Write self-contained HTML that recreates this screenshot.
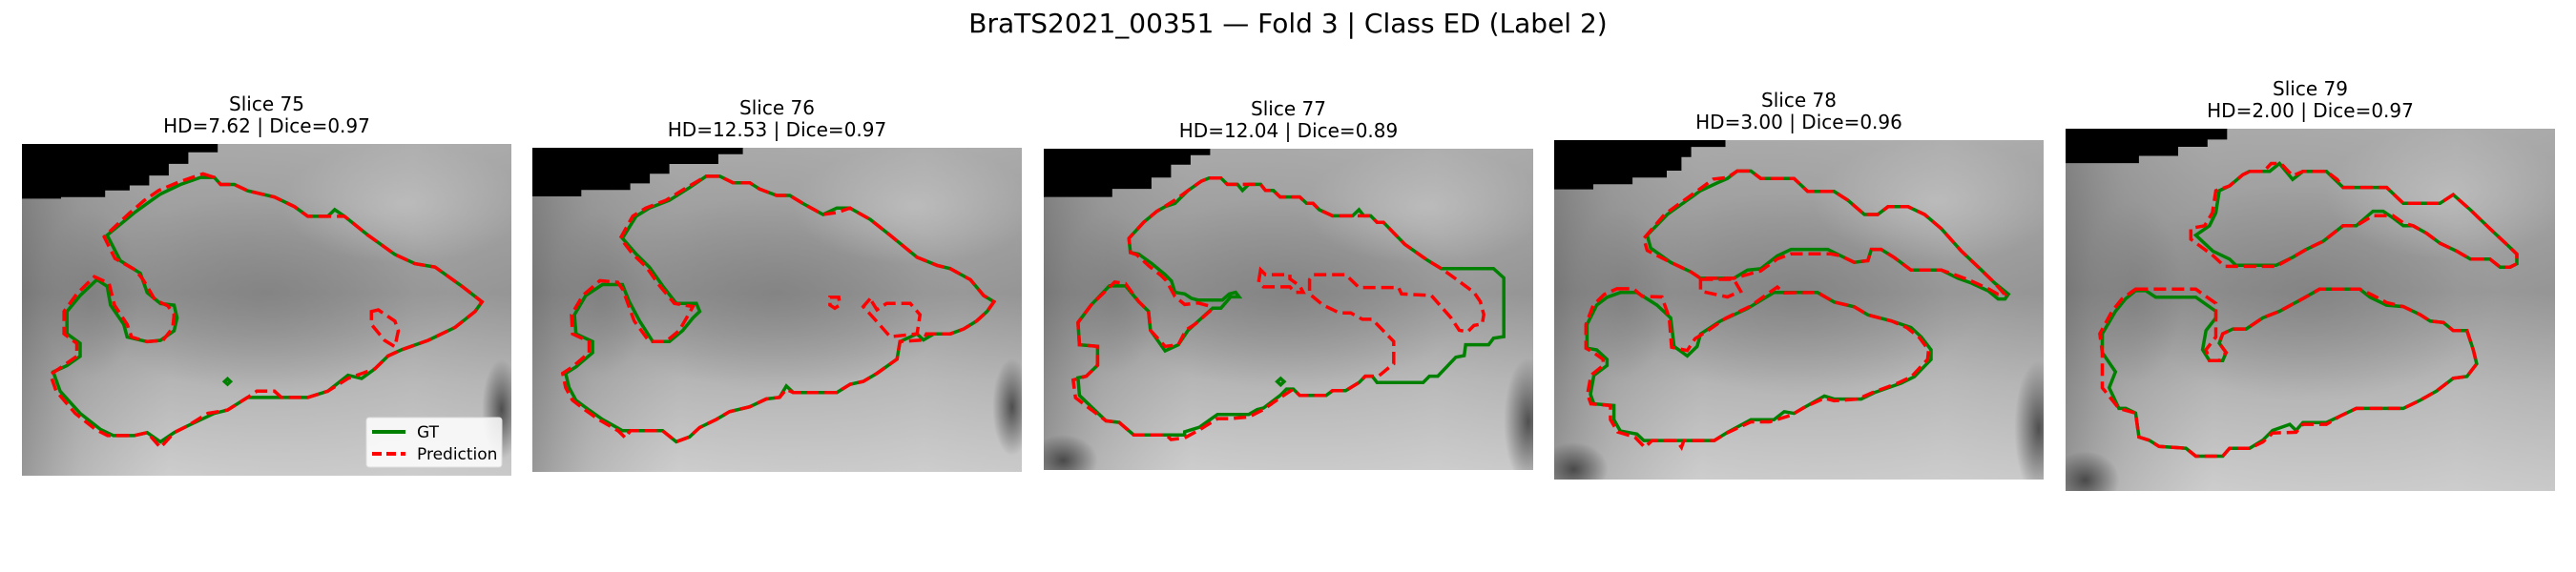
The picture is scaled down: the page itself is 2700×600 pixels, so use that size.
<!DOCTYPE html>
<html><head><meta charset="utf-8">
<style>
html,body{margin:0;padding:0;background:#fff;}
svg{display:block;font-family:"DejaVu Sans","Liberation Sans",sans-serif;}
</style></head>
<body>
<svg id="fig" width="2700" height="600" viewBox="0 0 2700 600" xmlns="http://www.w3.org/2000/svg">
<defs id="defs">
<linearGradient id="vg" x1="0" y1="0" x2="0" y2="1">
<stop offset="0" stop-color="#aaaaaa"/><stop offset="0.45" stop-color="#939393"/><stop offset="0.72" stop-color="#b6b6b6"/><stop offset="1" stop-color="#cdcdcd"/>
</linearGradient>
<linearGradient id="hg" x1="0" y1="0" x2="1" y2="0">
<stop offset="0" stop-color="#555" stop-opacity="0.45"/><stop offset="0.12" stop-color="#777" stop-opacity="0.25"/><stop offset="0.3" stop-color="#888" stop-opacity="0"/><stop offset="0.8" stop-color="#ccc" stop-opacity="0.15"/><stop offset="1" stop-color="#aaa" stop-opacity="0.1"/>
</linearGradient>
<radialGradient id="rd" cx="0.5" cy="0.5" r="0.5">
<stop offset="0" stop-color="#777" stop-opacity="0.55"/><stop offset="1" stop-color="#777" stop-opacity="0"/>
</radialGradient>
<radialGradient id="lt" cx="0.5" cy="0.5" r="0.5">
<stop offset="0" stop-color="#c8c8c8" stop-opacity="0.6"/><stop offset="1" stop-color="#c8c8c8" stop-opacity="0"/>
</radialGradient>
<radialGradient id="dk" cx="0.5" cy="0.5" r="0.5">
<stop offset="0" stop-color="#333" stop-opacity="0.8"/><stop offset="1" stop-color="#333" stop-opacity="0"/>
</radialGradient>
</defs>
<text x="1350" y="34" text-anchor="middle" font-size="28" fill="#000">BraTS2021_00351 — Fold 3 | Class ED (Label 2)</text>
<g id="panels"></g>
</svg>
<script>
// ---- data ----
const sliceLabels = ["Slice 75","Slice 76","Slice 77","Slice 78","Slice 79"];
const hdValues = [7.62, 12.53, 12.04, 3.00, 2.00];
const diceValues = [0.97, 0.97, 0.89, 0.96, 0.97];

// contours in image-grid units (0-100 of panel width / height)
const gt75 = [[36.5,10.1],[39.3,10.1],[40.6,12.2],[43.4,12.2],[46.1,14.1],[51.6,16.0],[55.7,18.9],[58.4,21.8],[62.5,21.8],[63.9,19.8],[65.9,21.8],[70.7,27.5],[76.2,33.3],[80.3,36.1],[84.4,37.1],[89.9,42.9],[94.0,47.6],[92.6,50.5],[88.5,55.3],[83.0,59.2],[77.6,62.0],[74.8,63.9],[72.1,67.8],[69.4,70.7],[66.6,69.7],[62.5,74.5],[58.4,76.4],[46.1,76.4],[42.0,80.2],[39.3,81.2],[33.8,85.0],[31.1,87.0],[28.3,89.8],[25.6,87.0],[22.9,87.9],[18.7,87.9],[16.0,86.0],[11.9,81.2],[7.8,74.5],[6.4,68.7],[9.2,66.8],[11.9,64.0],[11.9,60.1],[9.2,57.2],[9.2,50.5],[11.9,45.7],[15.3,40.9],[17.4,42.9],[18.1,48.6],[20.8,54.4],[21.5,58.2],[25.6,59.6],[28.3,59.2],[31.1,56.3],[31.7,52.4],[31.1,48.6],[28.3,48.1],[25.6,44.8],[24.2,39.0],[20.1,35.2],[17.4,27.5],[22.9,20.8],[25.6,17.9],[28.3,15.1],[32.4,12.2]];
const gt75dot = [[42.0,70.8],[42.6,71.6],[42.0,72.4],[41.4,71.6]];
const pred75 = [[37.0,9.0],[39.3,10.1],[40.6,12.2],[43.4,12.2],[46.1,14.1],[51.6,16.0],[55.7,18.9],[58.4,21.8],[62.5,21.8],[65.9,21.8],[70.7,27.5],[76.2,33.3],[80.3,36.1],[84.4,37.1],[89.9,42.9],[94.0,47.6],[92.6,50.5],[88.5,55.3],[83.0,59.2],[77.6,62.0],[74.8,63.9],[72.1,67.8],[66.6,70.7],[62.5,74.5],[58.4,76.4],[53.0,76.4],[51.6,74.5],[48.0,74.5],[46.1,76.4],[42.0,80.2],[38.0,81.2],[33.8,85.0],[31.1,87.0],[28.3,91.5],[25.6,87.0],[22.9,87.9],[17.5,87.9],[15.0,86.0],[10.9,81.2],[7.0,74.5],[5.8,69.5],[8.5,66.8],[11.2,64.0],[11.2,60.1],[8.6,57.2],[8.6,50.5],[11.2,45.2],[14.8,40.0],[17.8,42.0],[18.9,48.6],[21.5,54.4],[22.4,58.2],[25.6,59.6],[28.8,59.2],[30.8,55.5],[31.1,51.5],[29.8,48.8],[27.2,47.0],[24.8,41.0],[23.2,38.0],[19.0,34.5],[16.8,28.0],[22.0,20.8],[25.0,17.0],[28.0,14.0],[32.0,11.5]];
const pred75b = [[71.4,50.5],[72.8,50.0],[76.2,53.4],[76.9,56.3],[76.2,61.1],[74.1,59.2],[71.4,54.4]];

const gt76 = [[35.5,8.8],[38.3,8.8],[41.0,10.8],[44.4,10.8],[46.4,12.7],[49.9,14.7],[52.6,14.7],[55.3,17.2],[59.4,20.6],[62.2,18.6],[64.9,18.6],[69.0,22.1],[73.1,27.0],[78.6,33.8],[82.7,36.3],[85.4,37.3],[89.5,40.7],[92.2,45.6],[94.3,47.5],[92.9,50.5],[90.8,53.4],[88.1,55.9],[85.4,57.4],[82.0,57.4],[79.9,59.3],[78.6,57.4],[75.1,59.8],[74.5,65.2],[70.4,69.6],[67.6,72.1],[64.9,73.0],[62.2,75.5],[53.3,75.5],[51.9,73.5],[50.5,77.0],[47.8,77.5],[44.4,79.9],[40.3,81.4],[37.6,83.8],[34.2,86.3],[32.1,89.2],[29.4,90.7],[26.6,87.3],[18.4,87.3],[14.3,83.8],[11.6,80.9],[8.9,77.9],[7.5,74.0],[6.8,69.6],[8.9,67.6],[12.3,63.2],[12.3,59.8],[8.9,57.4],[8.6,51.5],[10.9,45.6],[14.3,42.2],[18.4,42.2],[19.8,47.5],[21.9,53.4],[24.6,59.8],[28.0,59.8],[30.7,56.4],[32.8,52.5],[34.2,50.5],[33.5,48.0],[29.4,48.0],[26.6,42.6],[23.9,36.8],[21.2,32.8],[18.4,27.9],[21.2,21.1],[23.9,18.6],[28.0,16.2],[32.1,12.3]];
const pred76 = [[35.5,8.8],[38.3,8.8],[41.0,10.8],[44.4,10.8],[46.4,12.7],[49.9,14.7],[52.6,14.7],[55.3,17.2],[59.4,20.6],[62.2,20.0],[64.9,18.6],[69.0,22.1],[73.1,27.0],[78.6,33.8],[82.7,36.3],[85.4,37.3],[89.5,40.7],[92.2,45.6],[94.3,47.5],[92.9,50.5],[90.8,53.4],[88.1,55.9],[85.4,57.4],[80.5,57.4],[79.9,59.3],[75.1,59.8],[74.5,65.2],[70.4,69.6],[67.6,72.1],[64.9,73.0],[62.2,75.5],[53.3,75.5],[51.9,74.5],[50.5,77.0],[47.8,77.5],[44.4,79.9],[40.3,81.4],[37.6,83.8],[34.2,86.3],[32.1,89.2],[29.4,90.7],[26.6,87.3],[20.0,87.3],[19.0,89.5],[17.5,87.3],[13.5,83.8],[10.8,80.9],[8.2,77.9],[6.8,74.0],[6.2,69.6],[8.2,67.6],[11.6,63.2],[11.6,59.8],[8.2,57.4],[8.0,51.5],[10.3,45.6],[13.8,41.0],[17.4,41.5],[18.5,43.8],[20.8,53.4],[23.9,59.8],[27.3,59.8],[30.0,56.4],[31.5,52.5],[32.8,49.0],[29.0,48.0],[26.0,42.6],[23.3,36.8],[20.5,32.8],[18.0,27.9],[20.5,21.1],[23.2,18.6],[27.3,16.2],[31.5,12.3]];
const pred76b = [[69.0,46.6],[67.6,49.0],[69.7,52.5],[73.1,58.3],[78.6,57.4],[79.2,51.5],[77.2,48.0],[72.4,48.0],[70.4,50.0]];
const pred76c = [[60.8,46.1],[62.6,46.1],[62.8,48.5],[61.8,49.5],[60.8,48.5]];

const gt77 = [[33.8,9.1],[36.2,9.1],[37.5,11.1],[39.6,11.1],[40.6,13.0],[41.9,11.1],[44.3,11.1],[45.3,13.0],[46.9,13.0],[48.3,15.0],[52.3,15.0],[53.7,17.0],[55.0,17.0],[56.3,19.0],[59.0,20.9],[63.1,20.9],[64.4,19.0],[65.4,20.9],[66.8,20.9],[68.1,22.9],[69.4,22.9],[73.8,29.8],[78.5,34.8],[81.2,37.3],[91.9,37.3],[94.0,40.2],[94.0,58.5],[91.9,59.0],[90.9,61.0],[86.2,61.0],[85.9,64.4],[84.2,64.9],[80.5,70.8],[78.8,70.8],[77.5,72.8],[68.1,72.8],[67.1,70.8],[65.7,70.8],[64.4,72.8],[61.7,75.3],[59.0,75.3],[57.7,76.8],[52.3,76.8],[51.0,74.8],[49.6,74.8],[48.3,76.8],[44.9,80.7],[43.6,81.2],[41.9,82.7],[35.5,82.7],[31.8,86.7],[28.8,88.1],[28.8,89.1],[18.4,89.1],[15.4,85.2],[12.7,84.7],[7.3,76.8],[7.0,71.3],[8.7,70.8],[11.0,67.4],[11.0,61.5],[7.3,61.0],[7.0,54.1],[9.7,48.6],[13.4,42.7],[16.7,42.7],[19.4,47.6],[21.4,50.6],[21.8,56.5],[24.8,62.9],[27.5,61.0],[29.5,56.5],[34.5,49.6],[36.2,49.6],[38.2,46.1],[39.9,46.1],[39.2,44.7],[37.9,45.2],[36.5,47.1],[31.5,47.1],[30.2,46.6],[28.8,45.2],[26.8,44.7],[26.1,41.2],[24.8,39.2],[22.1,35.8],[19.4,32.8],[17.7,32.3],[17.4,27.9],[20.4,22.9],[23.1,19.5],[24.8,18.0],[26.8,17.0],[29.5,13.0],[32.2,10.1]];
const gt77dot = [[48.4,71.5],[49.1,72.5],[48.4,73.5],[47.7,72.5]];
const pred77 = [[33.8,9.1],[36.2,9.1],[37.5,11.1],[39.6,11.1],[44.3,11.1],[45.3,13.0],[46.9,13.0],[48.3,15.0],[52.3,15.0],[53.7,17.0],[55.0,17.0],[56.3,19.0],[59.0,20.9],[66.8,20.9],[68.1,22.9],[69.4,22.9],[73.8,29.8],[78.5,34.8],[81.2,37.3],[83.9,40.2],[87.9,44.7],[89.2,47.6],[89.9,51.6],[89.6,54.5],[87.9,55.0],[86.6,57.0],[84.9,56.5],[83.2,52.6],[79.2,45.7],[73.1,45.2],[72.5,43.2],[64.4,43.2],[61.7,39.2],[55.0,39.2],[54.3,40.7],[54.3,45.2],[57.0,48.6],[60.4,51.1],[62.7,51.1],[65.1,53.1],[67.1,53.1],[71.5,60.0],[71.5,66.9],[68.4,70.8],[65.7,70.8],[64.4,72.8],[61.7,75.3],[59.0,75.3],[57.7,76.8],[52.3,76.8],[51.0,74.8],[48.3,77.5],[44.9,81.2],[41.9,83.5],[38.0,84.0],[35.5,84.0],[31.8,87.5],[28.8,90.0],[26.0,90.5],[25.0,89.1],[18.4,89.1],[15.4,85.2],[12.7,84.7],[6.5,77.5],[6.0,72.0],[8.7,70.8],[11.0,67.4],[11.0,61.5],[7.3,61.0],[7.0,54.1],[9.7,48.6],[14.5,41.5],[16.7,42.0],[19.4,47.6],[21.4,50.6],[21.8,56.5],[24.8,61.5],[27.5,61.0],[29.0,56.5],[31.0,54.5],[34.0,50.5],[34.0,49.0],[31.5,48.0],[28.8,48.5],[26.8,46.0],[25.0,41.0],[24.0,39.5],[21.5,36.5],[19.0,33.0],[17.7,32.3],[17.4,27.9],[20.4,22.9],[23.1,19.5],[26.8,16.0],[29.5,13.0],[32.2,10.1]];
const pred77b = [[44.3,37.7],[43.9,41.5],[44.9,43.0],[50.3,43.0],[51.3,44.7],[53.0,44.7],[52.3,42.7],[50.3,40.5],[50.3,39.2],[45.3,39.2]];

const gt78a = [[37.4,9.1],[40.2,9.1],[42.2,11.3],[49.0,11.3],[51.8,15.1],[57.2,15.1],[60.0,17.7],[63.4,21.9],[66.1,21.9],[68.2,19.6],[72.3,19.6],[75.7,21.9],[79.1,26.1],[83.2,32.7],[87.3,38.3],[90.0,42.1],[92.8,45.4],[92.1,46.8],[90.7,46.8],[88.7,44.4],[85.2,42.1],[82.5,40.7],[79.1,38.3],[72.9,38.3],[69.5,34.6],[66.8,32.2],[64.8,32.2],[64.1,35.5],[61.3,36.0],[58.6,34.1],[55.9,32.2],[48.4,32.2],[45.6,34.1],[42.2,37.9],[39.5,38.3],[36.7,40.7],[29.9,40.7],[27.9,38.8],[23.8,36.0],[19.7,31.8],[19.0,28.0],[23.1,21.9],[25.8,19.1],[29.9,14.9],[33.3,12.6],[35.4,11.3]];
const gt78b = [[13.5,44.9],[16.9,44.9],[21.0,48.6],[23.8,52.4],[24.5,60.8],[27.2,63.6],[29.2,60.8],[29.9,57.1],[34.0,53.3],[39.5,49.6],[44.9,44.9],[53.8,44.9],[57.2,47.7],[61.3,49.1],[64.1,51.5],[68.9,53.3],[72.9,55.2],[75.0,58.0],[77.0,61.8],[77.0,64.6],[73.6,69.7],[70.9,71.6],[65.4,74.4],[62.7,76.3],[57.2,76.3],[55.2,75.4],[51.8,78.2],[49.0,80.5],[47.0,80.0],[44.9,82.4],[40.2,82.4],[35.4,86.1],[32.7,88.5],[18.3,88.5],[16.9,86.6],[13.5,85.7],[12.2,82.4],[12.2,78.2],[8.1,77.7],[7.4,74.9],[8.1,69.3],[10.8,66.4],[10.8,64.6],[8.7,61.8],[6.7,61.3],[6.7,54.3],[8.7,48.6],[10.8,46.3]];
const pred78a = [[37.4,9.1],[40.2,9.1],[42.2,11.3],[49.0,11.3],[51.8,15.1],[57.2,15.1],[60.0,17.7],[63.4,21.9],[66.1,21.9],[68.2,19.6],[72.3,19.6],[75.7,21.9],[79.1,26.1],[83.2,32.7],[87.3,38.3],[90.0,42.1],[92.0,45.4],[90.7,45.4],[88.7,43.8],[85.2,41.5],[82.5,40.0],[79.1,38.3],[72.9,38.3],[69.5,34.6],[66.8,32.2],[64.8,32.2],[64.1,35.5],[61.3,36.0],[58.6,34.1],[56.5,33.5],[48.4,33.5],[45.6,35.0],[42.2,38.5],[36.7,40.7],[29.9,40.7],[27.9,38.8],[23.8,36.0],[19.0,32.5],[18.3,29.0],[22.5,22.0],[25.2,19.1],[29.3,14.9],[32.5,11.5],[35.4,11.0]];
const pred78c = [[29.9,41.0],[36.7,41.0],[38.1,44.5],[35.4,46.2],[29.9,44.5]];
const pred78b = [[12.8,43.8],[16.2,43.8],[18.0,46.0],[22.0,46.2],[23.5,52.4],[24.0,61.0],[27.2,62.0],[28.8,58.5],[31.5,56.0],[35.0,52.5],[40.0,49.0],[45.6,43.3],[47.0,45.0],[53.8,44.9],[57.2,47.7],[61.3,49.1],[64.1,51.5],[68.9,53.3],[72.0,55.2],[74.5,58.0],[76.5,61.8],[76.3,64.6],[73.0,69.7],[70.2,71.6],[65.0,74.4],[62.0,76.3],[57.2,76.8],[55.2,76.0],[51.0,78.8],[48.5,81.0],[44.0,83.0],[40.2,83.0],[35.0,86.5],[32.7,88.5],[26.5,88.5],[26.0,90.5],[25.0,88.5],[20.0,88.5],[18.5,90.5],[16.5,87.5],[13.0,86.0],[11.5,82.4],[11.5,78.2],[7.5,77.7],[6.8,74.9],[7.5,69.3],[10.0,66.4],[10.0,64.6],[8.0,62.5],[6.5,61.3],[6.5,54.3],[8.0,48.6],[10.2,45.5]];

const gt79a = [[37.6,11.8],[41.7,11.8],[43.7,9.6],[46.4,14.0],[48.5,11.8],[53.3,11.8],[56.7,16.2],[65.6,16.2],[69.0,20.6],[76.5,20.6],[79.2,18.2],[82.7,22.4],[86.7,27.6],[90.2,32.0],[92.2,34.6],[92.2,37.3],[90.8,38.2],[88.8,38.2],[86.7,36.0],[82.7,36.0],[79.9,33.8],[76.5,31.6],[73.8,28.9],[71.0,26.8],[69.0,26.8],[66.9,24.6],[64.9,22.8],[62.8,22.8],[59.4,26.8],[56.7,26.8],[52.6,31.1],[49.2,33.3],[46.4,35.5],[43.0,37.7],[34.8,37.7],[33.5,36.0],[30.1,33.8],[26.6,29.4],[29.4,26.8],[30.7,23.2],[31.4,17.1],[33.5,15.8],[36.2,12.7]];
const gt79b = [[14.3,44.7],[16.4,44.7],[18.4,46.5],[26.6,46.5],[30.7,50.4],[30.7,52.2],[28.7,55.7],[28.0,61.0],[29.4,64.0],[32.1,64.0],[32.8,61.8],[31.4,59.2],[32.1,56.6],[34.2,55.3],[36.9,55.3],[40.3,52.2],[43.7,50.4],[48.5,46.9],[51.9,44.3],[60.1,44.3],[62.2,46.5],[65.6,48.7],[69.0,49.1],[72.4,51.3],[74.5,53.1],[77.2,53.5],[79.2,55.7],[82.0,55.7],[83.3,61.0],[84.0,64.9],[82.0,68.4],[79.2,68.9],[75.8,72.4],[72.4,75.0],[69.0,77.2],[59.4,77.2],[56.0,79.4],[53.3,81.1],[48.5,81.1],[47.1,83.3],[45.8,81.6],[42.3,83.3],[40.3,86.0],[37.6,88.2],[33.5,88.2],[32.1,90.4],[26.6,90.4],[24.6,88.2],[19.1,87.7],[17.1,86.0],[15.0,85.1],[14.3,78.5],[12.3,77.2],[10.9,77.2],[8.9,71.5],[10.2,67.1],[7.5,61.8],[7.5,56.6],[10.2,50.4],[12.3,46.9]];
const pred79a = [[37.6,11.8],[40.5,11.8],[42.0,9.6],[44.0,9.6],[46.4,13.0],[48.5,11.8],[53.3,11.8],[55.5,14.0],[56.7,16.2],[65.6,16.2],[69.0,20.6],[76.5,20.6],[79.2,18.2],[82.7,22.4],[86.7,27.6],[90.2,32.0],[92.2,34.6],[92.2,37.3],[90.8,38.2],[88.8,38.2],[86.7,36.0],[82.7,36.0],[79.9,33.8],[76.5,31.6],[73.8,28.9],[71.0,26.8],[69.0,26.0],[66.9,24.0],[62.8,24.0],[59.4,26.8],[56.7,26.8],[52.6,31.1],[49.2,33.3],[46.4,35.5],[43.0,38.0],[32.5,38.0],[30.1,35.0],[25.6,30.5],[25.6,27.5],[28.4,26.8],[30.0,23.2],[30.7,17.1],[33.5,15.8],[36.2,12.7]];
const pred79b = [[14.3,44.3],[26.6,44.3],[30.7,48.2],[30.7,57.5],[28.7,61.0],[29.4,64.0],[31.4,64.0],[32.8,61.8],[31.4,59.2],[32.1,56.6],[34.2,55.3],[36.9,55.3],[40.3,52.2],[43.7,50.4],[48.5,46.9],[51.9,44.3],[60.1,44.3],[62.8,46.0],[65.6,48.0],[69.0,49.1],[72.4,51.3],[74.5,53.1],[77.2,53.5],[79.2,55.7],[82.0,55.7],[83.3,61.0],[84.0,64.9],[82.0,68.4],[79.2,68.9],[75.8,72.4],[72.4,75.0],[69.0,77.2],[59.4,77.2],[56.0,79.4],[53.3,81.6],[48.5,81.6],[47.1,83.8],[42.3,84.0],[40.3,86.5],[37.6,88.2],[33.5,88.2],[32.1,90.4],[26.6,90.4],[24.6,88.2],[19.1,87.7],[17.1,86.0],[15.0,85.1],[14.3,78.5],[10.9,77.2],[7.5,71.5],[7.5,61.8],[7.0,56.6],[9.5,50.4],[11.5,47.0]];

const gtSeries = [[gt75, gt75dot],[gt76],[gt77, gt77dot],[gt78a, gt78b],[gt79a, gt79b]];
const predSeries = [[pred75, pred75b],[pred76, pred76b, pred76c],[pred77, pred77b],[pred78a, pred78b, pred78c],[pred79a, pred79b]];

// black background corner (image grid units)
const blackCorners = [
 [[0,0],[40,0],[40,2.5],[34,2.5],[34,6],[30,6],[30,9.5],[26,9.5],[26,12.5],[22,12.5],[22,14],[17,14],[17,16],[8,16],[8,16.5],[0,16.5]],
 [[0,0],[43,0],[43,2],[38,2],[38,5],[28,5],[28,8],[24,8],[24,11],[20,11],[20,13],[10,13],[10,15],[0,15]],
 [[0,0],[34,0],[34,2],[30,2],[30,5],[26,5],[26,9],[22,9],[22,12.5],[14,12.5],[14,15],[0,15]],
 [[0,0],[35,0],[35,2],[28,2],[28,5],[26,5],[26,9],[23,9],[23,11],[16,11],[16,13],[8,13],[8,14.5],[0,14.5]],
 [[0,0],[33,0],[33,3],[29,3],[29,5],[23,5],[23,7.5],[15,7.5],[15,9.5],[0,9.5]]
];

// layout
const panelRects = [[23,151,513,348],[558,155,513,340],[1094,156,513,337],[1629,147,513,356],[2165,135,513,380]];

const NS = "http://www.w3.org/2000/svg";
const root = document.getElementById("panels");
const defs = document.getElementById("defs");
function mk(tag, attrs, parent){ const e=document.createElementNS(NS,tag); for(const k in attrs) e.setAttribute(k,attrs[k]); (parent||root).appendChild(e); return e; }

panelRects.forEach((r,i)=>{
  const [px,py,pw,ph]=r;
  const sx = u => px + u/100*pw;
  const sy = v => py + v/100*ph;
  const toPts = arr => arr.map(p=>sx(p[0]).toFixed(1)+","+sy(p[1]).toFixed(1)).join(" ");
  const cp = mk("clipPath",{id:"clip"+i},defs);
  mk("rect",{x:px,y:py,width:pw,height:ph},cp);
  const g = mk("g",{});
  
  
  const img = mk("g",{"clip-path":"url(#clip"+i+")"},g);
  
  

  mk("rect",{x:px,y:py,width:pw,height:ph,fill:"url(#vg)"},img);
  mk("rect",{x:px,y:py,width:pw,height:ph,fill:"url(#hg)"},img);
  mk("ellipse",{cx:sx(50),cy:sy(45),rx:pw*0.38,ry:ph*0.3,fill:"url(#rd)"},img);
  mk("ellipse",{cx:sx(14),cy:sy(45),rx:pw*0.1,ry:ph*0.25,fill:"url(#rd)"},img);
  mk("ellipse",{cx:sx(78),cy:sy(18),rx:pw*0.25,ry:ph*0.18,fill:"url(#lt)"},img);
  if(i>=2){ mk("ellipse",{cx:sx(4),cy:sy(97),rx:pw*0.07,ry:ph*0.08,fill:"url(#dk)"},img); }
  if(i===2||i===3){ mk("ellipse",{cx:sx(99),cy:sy(85),rx:pw*0.05,ry:ph*0.2,fill:"url(#dk)"},img); }
  if(i===0||i===1){ mk("ellipse",{cx:sx(98),cy:sy(80),rx:pw*0.04,ry:ph*0.15,fill:"url(#dk)"},img); }
  const bc = mk("polygon",{points:toPts(blackCorners[i]),fill:"#000"},img);
  
  

  gtSeries[i].forEach(c=>{
    const pl = mk("polygon",{points:toPts(c),fill:"none",stroke:"#008000","stroke-width":3.5,"stroke-linejoin":"miter"},g);
    
    
  });
  predSeries[i].forEach(c=>{
    const pl = mk("polygon",{points:toPts(c),fill:"none",stroke:"#ff0000","stroke-width":3.5,"stroke-dasharray":"13,6"},g);
    
    
  });

  const t1 = mk("text",{x:px+pw/2,y:py-35,"text-anchor":"middle","font-size":20,fill:"#000"},g);
  t1.textContent = sliceLabels[i];
  
  
  const t2 = mk("text",{x:px+pw/2,y:py-12,"text-anchor":"middle","font-size":20,fill:"#000"},g);
  t2.textContent = "HD="+hdValues[i].toFixed(2)+" | Dice="+diceValues[i].toFixed(2);
  
  
});

// legend in first panel
(function(){
  const lg = mk("g",{});
  
  
  mk("rect",{x:384,y:438,width:142,height:52,rx:3,fill:"#fff","fill-opacity":0.85,stroke:"#ddd"},lg);
  mk("line",{x1:390,y1:453,x2:425,y2:453,stroke:"#008000","stroke-width":4},lg);
  const a = mk("text",{x:437,y:459,"font-size":17,fill:"#000"},lg); a.textContent="GT";
  
  
  mk("line",{x1:390,y1:476,x2:425,y2:476,stroke:"#ff0000","stroke-width":4,"stroke-dasharray":"10,5"},lg);
  const b = mk("text",{x:437,y:482,"font-size":17,fill:"#000"},lg); b.textContent="Prediction";
  
  
})();
</script>
</body></html>
